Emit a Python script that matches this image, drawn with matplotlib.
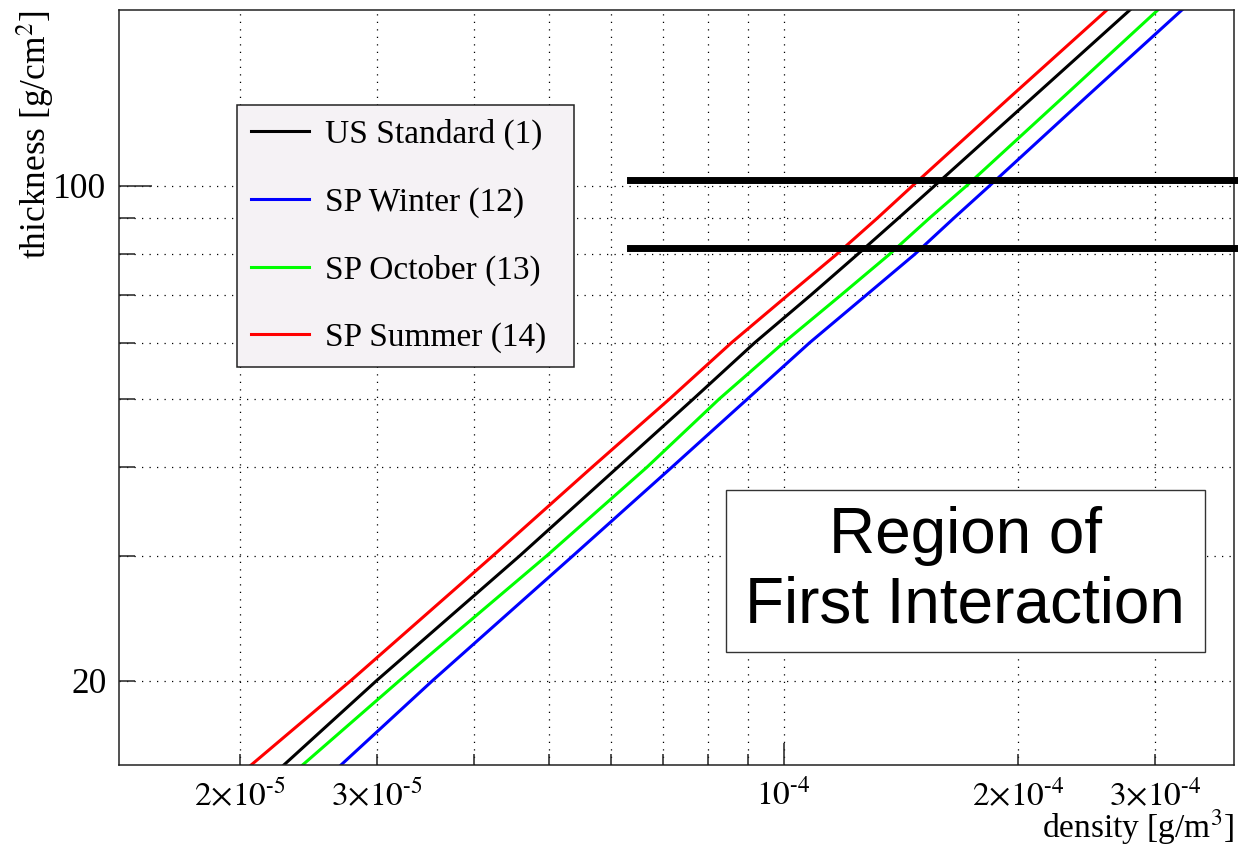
import numpy as np
import matplotlib.pyplot as plt
from matplotlib.patches import Rectangle

plt.rcParams['font.family'] = ['Liberation Serif', 'DejaVu Serif']
plt.rcParams['mathtext.fontset'] = 'stix'

# thickness levels [g/cm^2]
thickness = [15.2, 20, 30, 40, 50, 60, 70, 80, 90, 100, 133.6, 177]

# density at each thickness level [g/m^3]
us_standard = [2.28e-5, 3.00e-5, 4.58e-5, 6.12e-5, 7.66e-5, 9.18e-5,
               1.083e-4, 1.245e-4, 1.405e-4, 1.564e-4, 2.096e-4, 2.785e-4]
sp_winter = [2.70e-5, 3.54e-5, 5.36e-5, 7.18e-5, 8.99e-5, 1.080e-4,
             1.276e-4, 1.474e-4, 1.655e-4, 1.840e-4, 2.452e-4, 3.248e-4]
sp_october = [2.41e-5, 3.21e-5, 4.96e-5, 6.67e-5, 8.27e-5, 1.0e-4,
              1.184e-4, 1.368e-4, 1.540e-4, 1.719e-4, 2.291e-4, 3.025e-4]
sp_summer = [2.07e-5, 2.78e-5, 4.23e-5, 5.67e-5, 7.14e-5, 8.57e-5,
             1.012e-4, 1.170e-4, 1.320e-4, 1.465e-4, 1.958e-4, 2.602e-4]

series_labels = ['US Standard (1)', 'SP Winter (12)', 'SP October (13)', 'SP Summer (14)']
series_colors = ['black', '#0000ff', '#00ff00', '#ff0000']

# thick marker lines bounding the first interaction region
cut_levels = [102, 81.7]
cut_x = [6.34e-5, 3.9e-4]

x_major = [1e-4]
x_minor = [2e-5, 3e-5, 4e-5, 5e-5, 6e-5, 7e-5, 8e-5, 9e-5, 2e-4, 3e-4]
x_minor_labels = [r'$2{\times}10^{\text{-}5}$', r'$3{\times}10^{\text{-}5}$', '', '', '', '', '', '',
                  r'$2{\times}10^{\text{-}4}$', r'$3{\times}10^{\text{-}4}$']
y_major = [100]
y_minor = [20, 30, 40, 50, 60, 70, 80, 90]
y_minor_labels = ['20', '', '', '', '', '', '', '']

fig = plt.figure(figsize=(12.38, 8.48), dpi=100)
ax = fig.add_axes([0.0961, 0.0979, 0.9007, 0.8903])

for dens, lab, col in zip([us_standard, sp_winter, sp_october, sp_summer],
                          series_labels, series_colors):
    ax.plot(dens, thickness, color=col, lw=2.2, label=lab)

for lvl in cut_levels:
    ax.plot(cut_x, [lvl, lvl], color='black', lw=5, clip_on=False, zorder=6)

ax.set_xscale('log')
ax.set_yscale('log')
ax.set_xlim(1.40e-5, 3.79e-4)
ax.set_ylim(15.2, 177)

ax.set_xticks(x_major)
ax.set_xticklabels([r'$10^{\text{-}4}$'])
ax.set_xticks(x_minor, minor=True)
ax.set_xticklabels(x_minor_labels, minor=True)
ax.set_yticks(y_major)
ax.set_yticklabels(['100'])
ax.set_yticks(y_minor, minor=True)
ax.set_yticklabels(y_minor_labels, minor=True)

ax.tick_params(which='both', direction='in', top=False, right=False,
               width=1.1, color='#222222')
ax.tick_params(axis='x', which='major', length=16, pad=10, labelsize=24)
ax.tick_params(axis='x', which='minor', length=8, pad=10, labelsize=24)
ax.tick_params(axis='y', which='major', length=24, pad=9, labelsize=25.5)
ax.tick_params(axis='y', which='minor', length=11.5, pad=9, labelsize=25.5)

ax.grid(which='both', color='black', linestyle=(0, (1, 5)), linewidth=0.9)
for sp in ax.spines.values():
    sp.set_linewidth(1.1)
    sp.set_color('#222222')

ax.set_xlabel('density [g/m$^3$]', fontsize=24, loc='right')
ax.xaxis.set_label_coords(1.0, -0.056)
ax.set_ylabel('thickness [g/cm$^2$]', fontsize=25.5, loc='top')
ax.yaxis.set_label_coords(-0.0555, 1.0)

leg = ax.legend(loc='upper left', bbox_to_anchor=(0.1058, 0.5, 0.3022, 0.3742),
                mode='expand', borderaxespad=0, fontsize=24, fancybox=False,
                framealpha=1, facecolor='#f5f2f5', edgecolor='#222222',
                handlelength=1.73, handletextpad=0.48, labelspacing=1.1,
                borderpad=0.42)
leg.get_frame().set_linewidth(1.1)
for h in leg.get_lines():
    h.set_linewidth(2.2)

ax.add_patch(Rectangle((0.5444, 0.1497), 0.4296, 0.2146, transform=ax.transAxes,
                       facecolor='white', edgecolor='#333333', lw=1.0, zorder=5))
ax.text(0.759, 0.257, 'Region of\nFirst Interaction', transform=ax.transAxes,
        ha='center', va='center', fontsize=46, family='Liberation Sans', zorder=6)

fig.savefig('out.png', dpi=100)
